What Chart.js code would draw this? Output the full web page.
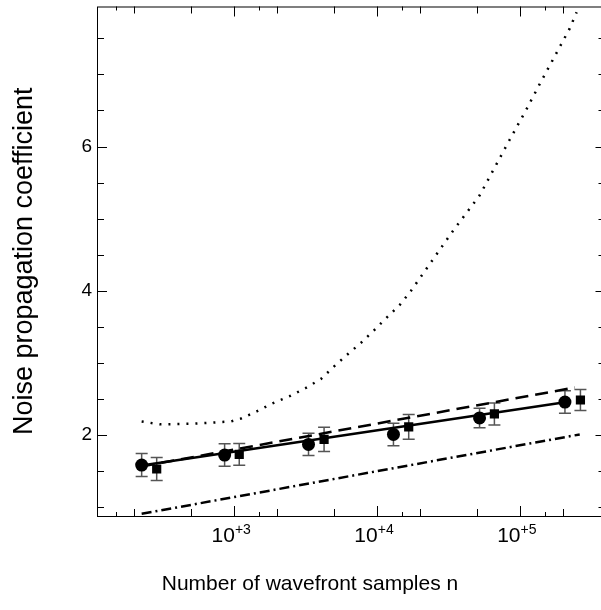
<!DOCTYPE html>
<html>
<head>
<meta charset="utf-8">
<script src="https://cdn.jsdelivr.net/npm/chart.js@4.4.0/dist/chart.umd.min.js"></script>
<style>
  html, body { margin: 0; padding: 0; background: #fff; overflow: hidden; }
  #wrap { width: 601px; height: 610px; overflow: hidden; position: relative; }
</style>
</head>
<body>
<div id="wrap"><canvas id="myChart" width="612" height="610"></canvas></div>
<script>
// measured points: n = number of samples, y = noise propagation coefficient
const circleN = [226, 861, 3330, 13100, 52500, 208000];
const circleY = [1.586, 1.724, 1.872, 2.01, 2.239, 2.459];
const circleErr = [0.16, 0.156, 0.155, 0.155, 0.135, 0.156];

const squareN = [288, 1090, 4280, 16750, 66700, 267000];
const squareY = [1.531, 1.734, 1.941, 2.114, 2.294, 2.487];
const squareErr = [0.159, 0.152, 0.168, 0.172, 0.152, 0.145];

// fitted / model curves
const solidN = [226, 208000];
const solidY = [1.58, 2.455];
const dashedN = [226, 244000];
const dashedY = [1.567, 2.66];
const dashDotN = [226, 264000];
const dashDotY = [0.91, 2.01];
const dottedN = [226, 302, 537, 955, 1122, 1445, 1862, 2455, 3162, 4074, 5012, 6166, 7762,
    9550, 11750, 14450, 17380, 33880, 52480, 69180, 85110, 112200, 138000, 169800, 223900, 251200];
const dottedY = [2.19, 2.15, 2.16, 2.19, 2.23, 2.33, 2.44, 2.54, 2.65, 2.78, 2.95, 3.11, 3.28,
    3.45, 3.63, 3.80, 4.0, 4.82, 5.32, 5.76, 6.09, 6.52, 6.86, 7.19, 7.63, 7.86];

// tick positions
const xDecades = [1e3, 1e4, 1e5];
const xDecadeLabels = ['+3', '+4', '+5'];
const xMidTicks = [200, 500, 2000, 5000, 20000, 50000, 200000];
const xSmallTicks = [150, 1500, 15000, 150000];
const yLabelTicks = [2, 4, 6];
const yMinorTicks = [1, 1.5, 2.5, 3, 3.5, 4.5, 5, 5.5, 6.5, 7, 7.5];

const xTitle = 'Number of wavefront samples n';
const yTitle = 'Noise propagation coefficient';

const FONT = '"Liberation Sans", Arial, sans-serif';
Chart.defaults.font.family = FONT;
Chart.defaults.color = '#000';

function toPoints(xs, ys) {
    return xs.map((x, i) => ({x: x, y: ys[i]}));
}

function lineSet(xs, ys, dash, width) {
    return {
        data: toPoints(xs, ys),
        showLine: true,
        borderColor: '#000',
        borderWidth: width,
        borderDash: dash,
        pointRadius: 0,
        fill: false
    };
}

const errorBars = {
    id: 'errorBars',
    beforeDatasetsDraw(chart) {
        const {ctx, scales: {x, y}} = chart;
        ctx.save();
        ctx.strokeStyle = '#555';
        ctx.lineWidth = 1.5;
        chart.data.datasets.forEach(ds => {
            if (!ds.errors) return;
            ds.data.forEach((p, j) => {
                const px = x.getPixelForValue(p.x);
                const hi = y.getPixelForValue(p.y + ds.errors[j]);
                const lo = y.getPixelForValue(p.y - ds.errors[j]);
                ctx.beginPath();
                ctx.moveTo(px, hi); ctx.lineTo(px, lo);
                ctx.moveTo(px - 6, hi); ctx.lineTo(px + 6, hi);
                ctx.moveTo(px - 6, lo); ctx.lineTo(px + 6, lo);
                ctx.stroke();
            });
        });
        ctx.restore();
    }
};

// box frame with inward ticks on all four sides, the 10^k labels and both titles
const frameTicks = {
    id: 'frameTicks',
    afterDraw(chart) {
        const {ctx, chartArea: a, scales: {x, y}} = chart;
        ctx.save();
        ctx.strokeStyle = '#000';
        ctx.lineWidth = 1;
        ctx.strokeRect(a.left + 0.5, a.top + 0.5, a.right - a.left, a.bottom - a.top);

        function seg(x1, y1, x2, y2) {
            ctx.beginPath();
            ctx.moveTo(x1, y1);
            ctx.lineTo(x2, y2);
            ctx.stroke();
        }
        function xTicks(vals, len) {
            vals.forEach(v => {
                const px = Math.round(x.getPixelForValue(v)) + 0.5;
                seg(px, a.bottom, px, a.bottom - len);
                seg(px, a.top, px, a.top + len);
            });
        }
        function yTicks(vals, len) {
            vals.forEach(v => {
                const py = Math.round(y.getPixelForValue(v)) + 0.5;
                seg(a.left, py, a.left + len, py);
                seg(a.right, py, a.right - len, py);
            });
        }
        xTicks(xDecades, 10);
        xTicks(xMidTicks, 7);
        xTicks(xSmallTicks, 4);
        yTicks(yLabelTicks, 10);
        yTicks(yMinorTicks, 7);

        ctx.fillStyle = '#000';
        ctx.textBaseline = 'alphabetic';
        xDecades.forEach((v, i) => {
            const px = x.getPixelForValue(v);
            ctx.font = '21px ' + FONT;
            ctx.textAlign = 'right';
            ctx.fillText('10', px + 1, 542);
            ctx.font = '14px ' + FONT;
            ctx.textAlign = 'left';
            ctx.fillText(xDecadeLabels[i], px + 1, 534);
        });

        // axis titles
        ctx.font = '21px ' + FONT;
        ctx.textAlign = 'center';
        ctx.fillText(xTitle, 310, 590);
        ctx.translate(32, (a.top + a.bottom) / 2);
        ctx.rotate(-Math.PI / 2);
        ctx.font = '27px ' + FONT;
        ctx.fillText(yTitle, 0, 0);
        ctx.restore();
    }
};

const circles = {
    data: toPoints(circleN, circleY),
    errors: circleErr,
    pointStyle: 'circle',
    pointRadius: 6.5,
    backgroundColor: '#000',
    borderColor: '#000',
    borderWidth: 0
};
const squares = {
    data: toPoints(squareN, squareY),
    errors: squareErr,
    pointStyle: 'rect',
    pointRadius: 6.5,
    backgroundColor: '#000',
    borderColor: '#000',
    borderWidth: 0
};

const ctx = document.getElementById('myChart');
new Chart(ctx, {
    type: 'scatter',
    data: {
        datasets: [
            lineSet(dottedN, dottedY, [2, 7], 2.5),
            lineSet(dashDotN, dashDotY, [10, 4, 2, 4], 2.5),
            lineSet(dashedN, dashedY, [13, 7], 2.5),
            lineSet(solidN, solidY, [], 2.5),
            circles,
            squares
        ]
    },
    options: {
        responsive: false,
        animation: false,
        events: [],
        layout: {padding: {top: 4, right: 2, left: 0, bottom: 0}},
        plugins: {legend: {display: false}, tooltip: {enabled: false}},
        scales: {
            x: {
                type: 'logarithmic',
                min: 110,
                max: 400000,
                grid: {display: false, drawTicks: false},
                border: {display: false},
                ticks: {display: false},
                afterFit: s => {
                    s.height = 94;
                    s.paddingLeft = 0;
                    s.paddingRight = 0;
                }
            },
            y: {
                min: 0.88,
                max: 7.94,
                afterBuildTicks: s => { s.ticks = yLabelTicks.map(v => ({value: v})); },
                ticks: {font: {size: 19}, color: '#000', padding: 5, callback: v => String(v)},
                grid: {display: false, drawTicks: false},
                border: {display: false},
                afterFit: s => {
                    s.width = 97;
                    s.paddingTop = 0;
                    s.paddingBottom = 0;
                }
            }
        }
    },
    plugins: [errorBars, frameTicks]
});
</script>
</body>
</html>
